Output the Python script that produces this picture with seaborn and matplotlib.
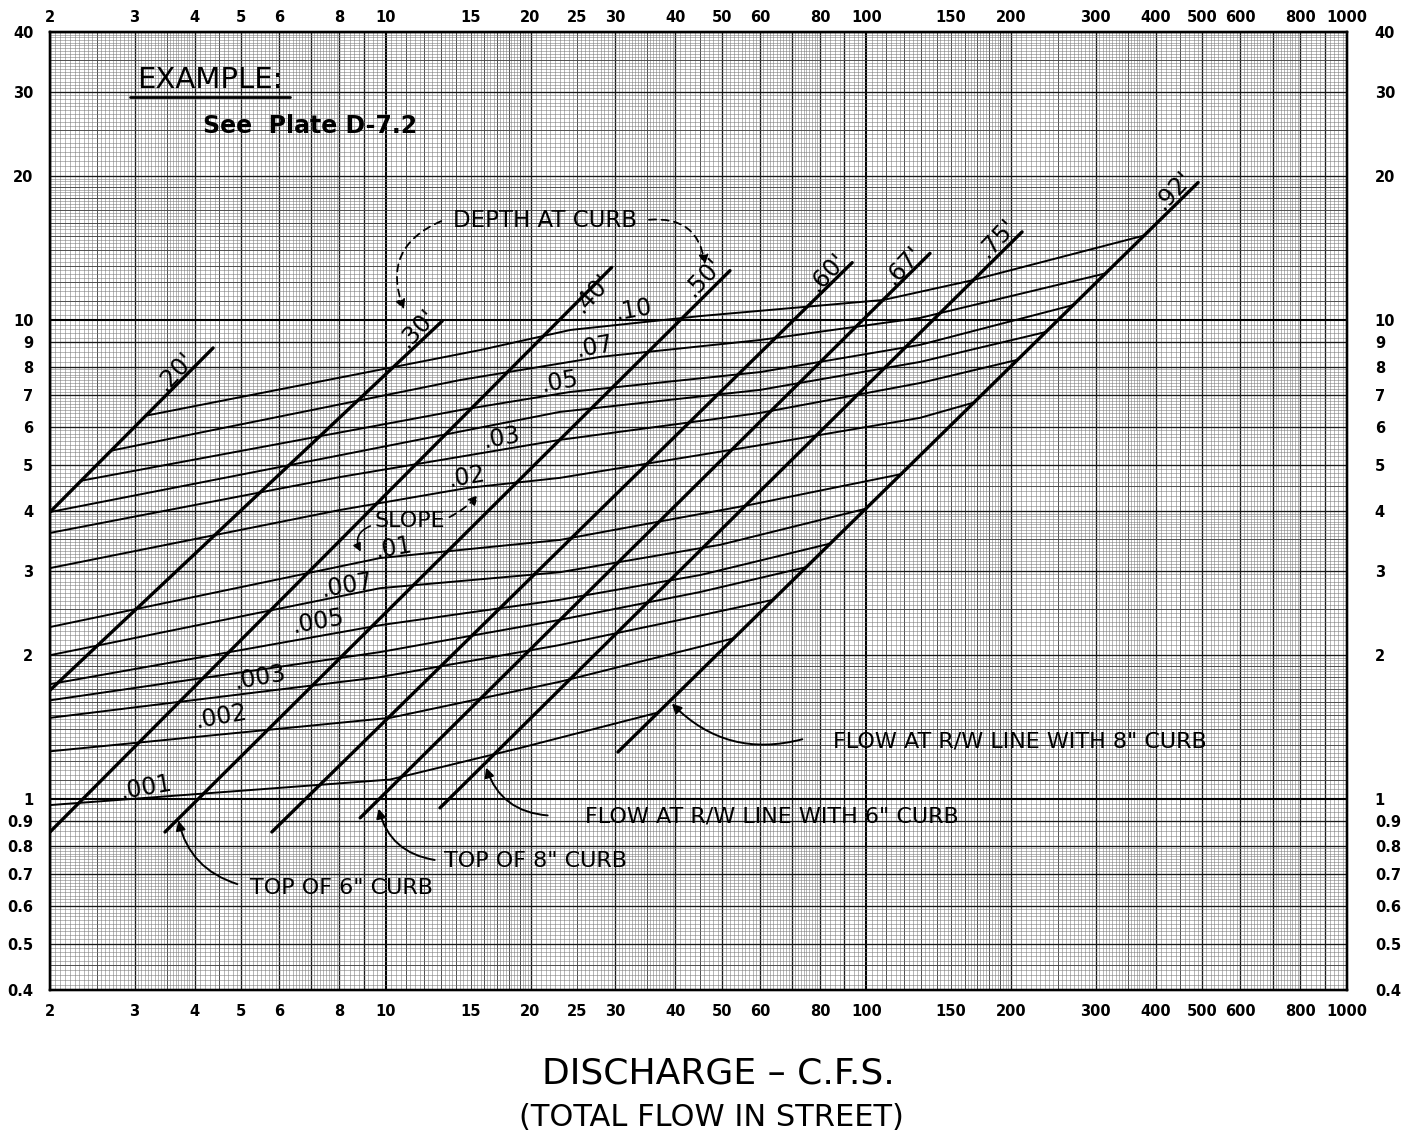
import numpy as np
import pandas as pd
import matplotlib
matplotlib.use("Agg")
import matplotlib.pyplot as plt
import seaborn as sns

# ---- axis ticks ----
x_ticks = [2, 3, 4, 5, 6, 8, 10, 15, 20, 25, 30, 40, 50, 60, 80, 100, 150, 200,
           300, 400, 500, 600, 800, 1000]
y_ticks = [0.4, 0.5, 0.6, 0.7, 0.8, 0.9, 1, 2, 3, 4, 5, 6, 7, 8, 9, 10, 20, 30, 40]
y_tick_labels = ["0.4", "0.5", "0.6", "0.7", "0.8", "0.9", "1", "2", "3", "4", "5",
                 "6", "7", "8", "9", "10", "20", "30", "40"]

# ---- depth at curb lines (thick diagonals) ----
depth_labels = [".20'", ".30'", ".40'", ".50'", ".60'", ".67'", ".75'", ".92'"]
depth_q_start = [2.0, 2.0, 2.0, 3.47, 5.79, 8.84, 12.96, 30.4]
depth_v_start = [3.98, 1.69, 0.855, 0.855, 0.855, 0.915, 0.96, 1.256]
depth_q_end = [4.37, 13.1, 29.5, 52.0, 93.4, 135.6, 210.8, 490.0]
depth_v_end = [8.76, 9.97, 12.9, 12.7, 13.2, 13.8, 15.3, 19.4]
depth_label_q = [3.64, 11.6, 26.9, 45.7, 82.8, 119.2, 187.0, 435.0]
depth_label_v = [7.84, 9.64, 11.4, 12.3, 12.6, 13.05, 14.86, 18.7]

# ---- slope lines (thin) ----
q_s10 = [3.18, 15.7, 24.2, 45.1, 108.3, 164.4, 374.6]
v_s10 = [6.33, 8.67, 9.55, 10.21, 11.03, 12.1, 15.0]
q_s07 = [2.69, 14.3, 27.9, 60.1, 129.3, 310.8]
v_s07 = [5.35, 7.51, 8.39, 9.10, 10.12, 12.5]
q_s05 = [2.33, 14.3, 24.2, 60.1, 129.3, 267.8]
v_s05 = [4.63, 6.50, 7.09, 7.80, 8.89, 10.75]
q_s04 = [2.0, 8.03, 23.0, 60.1, 129.3, 235.4]
v_s04 = [3.98, 5.23, 6.44, 7.16, 8.19, 9.45]
q_s03 = [2.0, 8.03, 23.0, 60.1, 129.3, 205.8]
v_s03 = [3.60, 4.71, 5.63, 6.41, 7.40, 8.27]
q_s02 = [2.0, 8.03, 14.8, 23.0, 60.1, 129.3, 168.4]
v_s02 = [3.04, 4.02, 4.47, 4.69, 5.49, 6.26, 6.75]
q_s010 = [2.0, 9.72, 23.0, 57.2, 118.6]
v_s010 = [2.29, 3.19, 3.48, 4.12, 4.78]
q_s007 = [2.0, 9.72, 23.0, 49.6, 100.3]
v_s007 = [2.00, 2.76, 2.98, 3.40, 4.05]
q_s005 = [2.0, 9.72, 23.0, 45.1, 84.0]
v_s005 = [1.74, 2.31, 2.61, 2.94, 3.42]
q_s004 = [2.0, 9.72, 23.0, 45.1, 74.5]
v_s004 = [1.61, 2.03, 2.37, 2.71, 3.05]
q_s003 = [2.0, 9.72, 23.0, 40.9, 63.9]
v_s003 = [1.48, 1.80, 2.10, 2.37, 2.61]
q_s002 = [2.0, 10.2, 23.0, 53.0]
v_s002 = [1.26, 1.48, 1.76, 2.17]
q_s001 = [2.0, 10.2, 19.0, 37.0]
v_s001 = [0.973, 1.10, 1.28, 1.52]

slope_label_text = [".001", ".002", ".003", ".005", ".007", ".01", ".02", ".03",
                    ".05", ".07", ".10"]
slope_label_q = [3.17, 4.54, 5.47, 7.23, 8.30, 10.4, 14.75, 17.4, 23.0, 27.2, 32.7]
slope_label_v = [1.06, 1.49, 1.80, 2.35, 2.80, 3.35, 4.71, 5.68, 7.44, 8.80, 10.5]

sns.set_theme(style="white")
plt.rcParams["font.family"] = ["DejaVu Sans"]
plt.rcParams["text.color"] = "black"
plt.rcParams["xtick.color"] = "black"
plt.rcParams["ytick.color"] = "black"
plt.rcParams["axes.labelcolor"] = "black"

fig = plt.figure(figsize=(14.07, 11.38), dpi=100)
ax = fig.add_axes([50 / 1407, 1 - 990 / 1138, 1297 / 1407, 958 / 1138])
ax.set_xscale("log")
ax.set_yscale("log")
ax.set_xlim(2, 1000)
ax.set_ylim(0.4, 40)


# graph paper grid
def paper_grid(e_lo, e_hi):
    fine, mid, major, dec = [], [], [], []
    for e in range(e_lo, e_hi):
        d = 10.0 ** e
        fine += list(np.arange(1, 2, 0.025) * d) + list(np.arange(2, 4, 0.05) * d)
        fine += list(np.arange(4, 8, 0.1) * d) + list(np.arange(8, 10, 0.2) * d)
        mid += list(np.arange(1, 2, 0.1) * d) + list(np.arange(2, 5, 0.5) * d)
        mid += list(np.arange(5, 10, 1.0) * d)
        major += [m * d for m in range(2, 10)]
        dec.append(d)
    return fine, mid, major, dec


gx = paper_grid(0, 3)
gy = paper_grid(-1, 2)
styles = [("#7a7a7a", 0.38), ("#404040", 0.6), ("#1a1a1a", 0.95), ("black", 1.5)]
for vals, (c, w) in zip(gx, styles):
    ax.vlines(vals, 0.4, 40, colors=c, linewidth=w, zorder=0)
for vals, (c, w) in zip(gy, styles):
    ax.hlines(vals, 2, 1000, colors=c, linewidth=w, zorder=0)

# depth lines
depth_df = pd.DataFrame({
    "q": depth_q_start + depth_q_end,
    "v": depth_v_start + depth_v_end,
    "depth": depth_labels + depth_labels,
})
sns.lineplot(data=depth_df, x="q", y="v", units="depth", estimator=None, sort=False,
             color="black", linewidth=2.4, ax=ax, legend=False, zorder=3)

# slope lines
slope_series = [("0.10", q_s10, v_s10), ("0.07", q_s07, v_s07), ("0.05", q_s05, v_s05),
                ("0.04", q_s04, v_s04), ("0.03", q_s03, v_s03), ("0.02", q_s02, v_s02),
                ("0.01", q_s010, v_s010), ("0.007", q_s007, v_s007),
                ("0.005", q_s005, v_s005), ("0.004", q_s004, v_s004),
                ("0.003", q_s003, v_s003), ("0.002", q_s002, v_s002),
                ("0.001", q_s001, v_s001)]
slope_df = pd.concat([pd.DataFrame({"q": q, "v": v, "slope": s})
                      for s, q, v in slope_series], ignore_index=True)
sns.lineplot(data=slope_df, x="q", y="v", units="slope", estimator=None, sort=False,
             color="black", linewidth=1.4, ax=ax, legend=False, zorder=3)

# labels on lines
for t, q, v in zip(depth_labels, depth_label_q, depth_label_v):
    ax.text(q, v, t, fontsize=17, rotation=47, ha="center", va="center", zorder=4)
for t, q, v in zip(slope_label_text, slope_label_q, slope_label_v):
    ax.text(q, v, t, fontsize=17, rotation=10, ha="center", va="center", zorder=4)

# example note
ax.text(4.31, 31.8, "EXAMPLE:", fontsize=21, ha="center", va="center")
ax.plot([2.93, 6.32], [29.3, 29.3], color="black", linewidth=2)
ax.text(6.95, 25.5, "See  Plate D-7.2", fontsize=17, fontweight="bold",
        ha="center", va="center")

# depth at curb callout
ax.text(21.4, 16.2, "DEPTH AT CURB", fontsize=16.5, ha="center", va="center")
dash = dict(arrowstyle="-|>", color="black", lw=1.3, linestyle=(0, (4, 3)),
            mutation_scale=14)
ax.annotate("", xy=(10.96, 10.41), xytext=(13.2, 16.2),
            arrowprops=dict(dash, connectionstyle="arc3,rad=0.5"))
ax.annotate("", xy=(46.2, 12.9), xytext=(34.8, 16.2),
            arrowprops=dict(dash, connectionstyle="arc3,rad=-0.5"))

# slope callout
ax.text(11.2, 3.81, "SLOPE", fontsize=16, ha="center", va="center", zorder=4)
ax.annotate("", xy=(15.7, 4.36), xytext=(13.4, 3.86),
            arrowprops=dict(dash, connectionstyle="arc3,rad=0.1"))
ax.annotate("", xy=(8.92, 3.25), xytext=(9.4, 3.74),
            arrowprops=dict(arrowstyle="-|>", color="black", lw=1.2,
                            connectionstyle="arc3,rad=0.6", mutation_scale=12))

# curb / right-of-way callouts
callouts = [
    ('FLOW AT R/W LINE WITH 8" CURB', 208.8, 1.32, 74.5, 1.34, 39.0, 1.60, -0.3),
    ('FLOW AT R/W LINE WITH 6" CURB', 63.6, 0.923, 22.0, 0.925, 16.1, 1.18, -0.35),
    ('TOP OF 8" CURB', 20.5, 0.744, 12.8, 0.746, 9.63, 0.969, -0.35),
    ('TOP OF 6" CURB', 8.07, 0.653, 4.97, 0.663, 3.69, 0.915, -0.3),
]
for txt, tq, tv, sq, sv, hq, hv, rad in callouts:
    ax.text(tq, tv, txt, fontsize=16, ha="center", va="center", zorder=4)
    ax.annotate("", xy=(hq, hv), xytext=(sq, sv),
                arrowprops=dict(arrowstyle="-|>", color="black", lw=1.4,
                                connectionstyle="arc3,rad=%s" % rad,
                                mutation_scale=14))

# ticks: bottom/left on the main axes, top/right on twins
ax.set_xticks(x_ticks)
ax.set_xticklabels([str(t) for t in x_ticks])
ax.set_yticks(y_ticks)
ax.set_yticklabels(y_tick_labels)
ax.xaxis.set_minor_locator(matplotlib.ticker.NullLocator())
ax.yaxis.set_minor_locator(matplotlib.ticker.NullLocator())
ax.tick_params(axis="both", which="both", length=0, labelsize=10.5)
ax.tick_params(axis="x", pad=10)
ax.tick_params(axis="y", pad=12)
ax.set_xlabel("")
ax.set_ylabel("")

ax_top = ax.twiny()
ax_top.set_xscale("log")
ax_top.set_xlim(2, 1000)
ax_top.set_xticks(x_ticks)
ax_top.set_xticklabels([str(t) for t in x_ticks])
ax_top.xaxis.set_minor_locator(matplotlib.ticker.NullLocator())
ax_top.tick_params(axis="x", which="both", length=0, labelsize=10.5, pad=5)

ax_right = ax.twinx()
ax_right.set_yscale("log")
ax_right.set_ylim(0.4, 40)
ax_right.set_yticks(y_ticks)
ax_right.set_yticklabels(y_tick_labels)
ax_right.yaxis.set_minor_locator(matplotlib.ticker.NullLocator())
ax_right.tick_params(axis="y", which="both", length=0, labelsize=10.5, pad=20)

for a in (ax, ax_top, ax_right):
    for lbl in a.get_xticklabels() + a.get_yticklabels():
        lbl.set_fontweight("bold")
    for s in a.spines.values():
        s.set_color("black")
        s.set_linewidth(1.6)

fig.text(718 / 1407, 1 - 1073 / 1138, "DISCHARGE – C.F.S.", fontsize=26,
         ha="center", va="center")
fig.text(711 / 1407, 1 - 1118 / 1138, "(TOTAL FLOW IN STREET)", fontsize=22,
         ha="center", va="center")

fig.savefig("out.png", dpi=100)
